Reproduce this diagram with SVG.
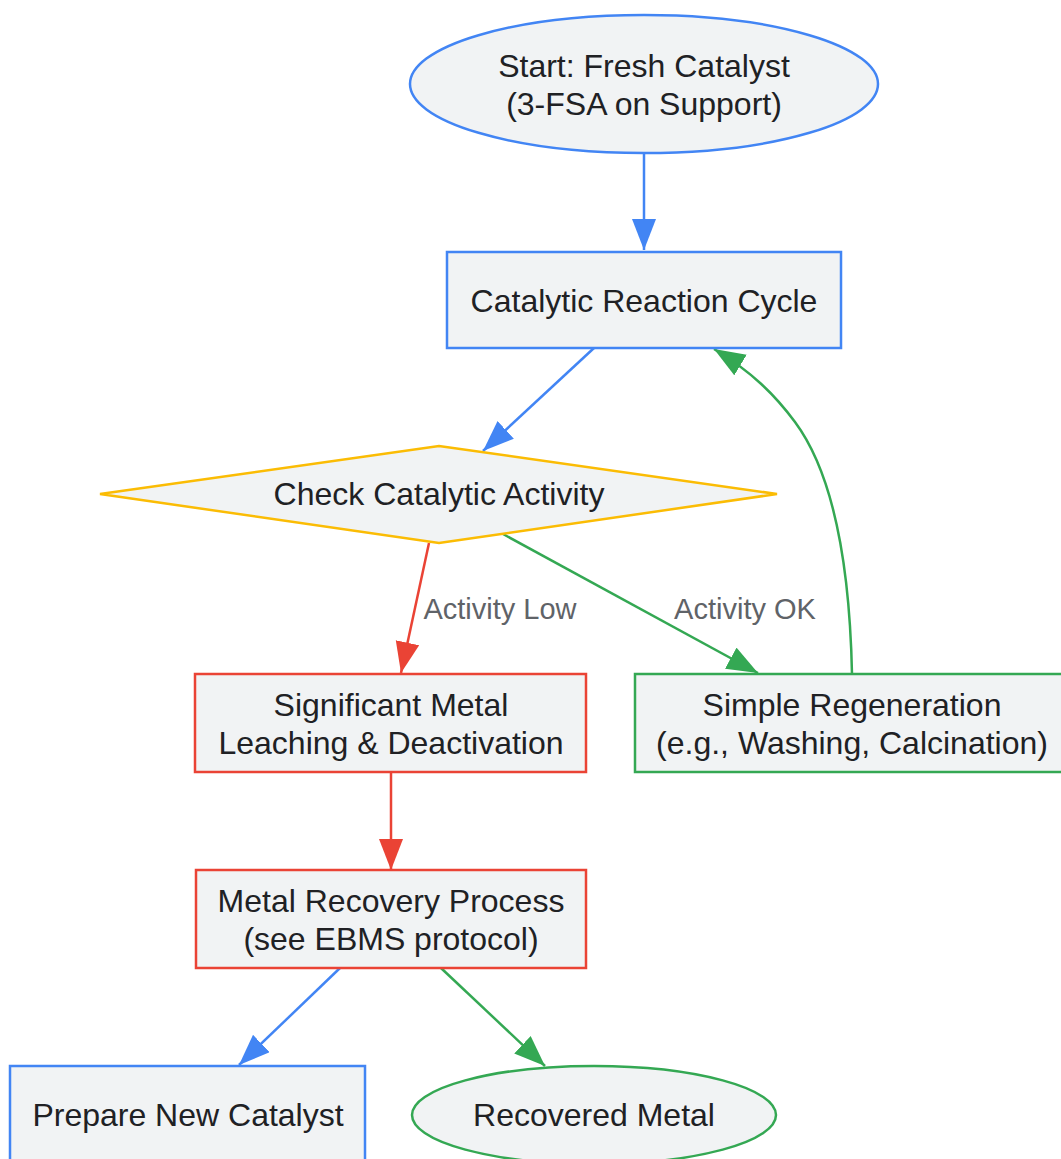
<svg xmlns="http://www.w3.org/2000/svg" width="1061" height="1159" viewBox="0 0 1061 1159">
<style>
.n{fill:#F1F3F4;stroke-width:2.5}
.b{stroke:#4285F4}.y{stroke:#FBBC04}.r{stroke:#EA4335}.g{stroke:#34A853}
.t{font-family:"Liberation Sans",Arial,sans-serif;font-size:32px;fill:#202124;text-anchor:middle;dominant-baseline:central}
.l{font-family:"Liberation Sans",Arial,sans-serif;font-size:29px;fill:#5F6368;text-anchor:middle;dominant-baseline:central}
.e{fill:none;stroke-width:2.5}
</style>
<defs>
<marker id="mb" markerUnits="userSpaceOnUse" markerWidth="34" markerHeight="26" refX="31" refY="12" orient="auto"><path d="M0,0L31,12L0,24z" fill="#4285F4"/></marker>
<marker id="mr" markerUnits="userSpaceOnUse" markerWidth="34" markerHeight="26" refX="31" refY="12" orient="auto"><path d="M0,0L31,12L0,24z" fill="#EA4335"/></marker>
<marker id="mg" markerUnits="userSpaceOnUse" markerWidth="34" markerHeight="26" refX="31" refY="12" orient="auto"><path d="M0,0L31,12L0,24z" fill="#34A853"/></marker>
</defs>
<rect width="1061" height="1159" fill="#fff"/>
<g id="connectors">
<path class="e b" d="M644,153L644,250" marker-end="url(#mb)"/>
<path class="e b" d="M594,348L483,451" marker-end="url(#mb)"/>
<path class="e r" d="M429,543L401,673" marker-end="url(#mr)"/>
<path class="e g" d="M503,534L758,673" marker-end="url(#mg)"/>
<path class="e g" d="M852,674C850,580 838,480 795,422C775,395 752,372 714,349" marker-end="url(#mg)"/>
<path class="e r" d="M391,772L391,870" marker-end="url(#mr)"/>
<path class="e b" d="M340,968L239,1065" marker-end="url(#mb)"/>
<path class="e g" d="M441,968L545,1066" marker-end="url(#mg)"/>
<text class="l" x="500" y="609">Activity Low</text>
<text class="l" x="745" y="609">Activity OK</text>
</g>
<g id="start">
<ellipse class="n b" cx="644" cy="84" rx="234" ry="69"/>
<text class="t" x="644" y="66">Start: Fresh Catalyst</text>
<text class="t" x="644" y="104">(3-FSA on Support)</text>
</g>
<g id="cycle">
<rect class="n b" x="447" y="252" width="394" height="96"/>
<text class="t" x="644" y="301">Catalytic Reaction Cycle</text>
</g>
<g id="check">
<polygon class="n y" points="100,494 439,446 777,494 439,543"/>
<text class="t" x="439" y="494">Check Catalytic Activity</text>
</g>
<g id="leaching">
<rect class="n r" x="195" y="674" width="391" height="98"/>
<text class="t" x="391" y="705">Significant Metal</text>
<text class="t" x="391" y="743">Leaching &amp; Deactivation</text>
</g>
<g id="regen">
<rect class="n g" x="635" y="674" width="434" height="98"/>
<text class="t" x="852" y="705">Simple Regeneration</text>
<text class="t" x="852" y="743">(e.g., Washing, Calcination)</text>
</g>
<g id="recovery">
<rect class="n r" x="196" y="870" width="390" height="98"/>
<text class="t" x="391" y="901">Metal Recovery Process</text>
<text class="t" x="391" y="939">(see EBMS protocol)</text>
</g>
<g id="prepare">
<rect class="n b" x="10" y="1066" width="355" height="98"/>
<text class="t" x="188" y="1115">Prepare New Catalyst</text>
</g>
<g id="recovered">
<ellipse class="n g" cx="594" cy="1115" rx="182" ry="49"/>
<text class="t" x="594" y="1115">Recovered Metal</text>
</g>
</svg>
